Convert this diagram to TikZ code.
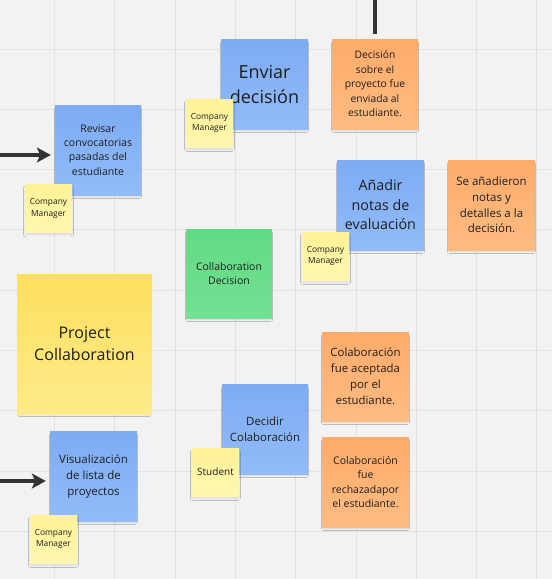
\documentclass[tikz,border=0pt]{standalone}
\usepackage{fontspec}
\setmainfont{Open Sans}
\usepackage{xcolor}
\usepackage{tikz}
\usetikzlibrary{arrows.meta,shadows.blur}
\definecolor{bgcol}{HTML}{F2F2F2}
\definecolor{gridcol}{HTML}{E3E3E3}
\definecolor{inkcol}{HTML}{1E1E1E}
\definecolor{linecol}{HTML}{333333}
\definecolor{bluetop}{HTML}{7DACF4}
\definecolor{bluebot}{HTML}{92BBF8}
\definecolor{orangetop}{HTML}{FFAB6A}
\definecolor{orangebot}{HTML}{FFBC82}
\definecolor{greentop}{HTML}{62DA84}
\definecolor{greenbot}{HTML}{72E193}
\definecolor{yellowtop}{HTML}{FDE05E}
\definecolor{yellowbot}{HTML}{FEEA8A}
\definecolor{tagtop}{HTML}{FFF296}
\definecolor{tagbot}{HTML}{FFF7B0}
\tikzset{
  sticky/.style={minimum width=87pt,minimum height=90pt,inner sep=0pt,align=center,text=inkcol,
    blur shadow={shadow xshift=0pt,shadow yshift=-3pt,shadow scale=0.96,shadow blur radius=2.5pt,shadow opacity=12}},
  bluenote/.style={sticky,top color=bluetop,bottom color=bluebot},
  orangenote/.style={sticky,top color=orangetop,bottom color=orangebot},
  greennote/.style={sticky,top color=greentop,bottom color=greenbot},
  bignote/.style={sticky,minimum width=135pt,minimum height=140pt,top color=yellowtop,bottom color=yellowbot},
  roletag/.style={sticky,minimum width=47pt,minimum height=48pt,top color=tagtop,bottom color=tagbot,
    font=\fontsize{8.4}{11.3}\selectfont},
  flow/.style={line width=3.6pt,draw=linecol,-{Stealth[length=14pt,width=15pt,inset=3.5pt]}}
}
\begin{document}
\begin{tikzpicture}[x=1pt,y=-1pt]
        %画背景和网格
        \fill[bgcol] (0,0) rectangle (552,579);
        \useasboundingbox (0,0) rectangle (552,579);
        \foreach \k in {1,...,9}
        {
                \draw[gridcol,line width=1pt] ({-5.8+60.3*\k},0) -- ++(0,579);
                \draw[gridcol,line width=1pt] (0,{-11.3+60.3*\k}) -- ++(552,0);
        };
        %画便签
        \node[bluenote,minimum width=86pt,font=\fontsize{10.5}{14.3}\selectfont] (revisar) at (98,150) {Revisar\\convocatorias\\pasadas del\\estudiante};
        \node[bluenote,font=\fontsize{18}{25}\selectfont] (enviar) at (264.5,84) {Enviar\\decisión};
        \node[orangenote,minimum width=86pt,font=\fontsize{10.3}{14.5}\selectfont] (sobre) at (375,84) {Decisión\\sobre el\\proyecto fue\\enviada al\\estudiante.};
        \node[bluenote,font=\fontsize{14.3}{19.5}\selectfont] (anadir) at (380.5,205) {Añadir\\notas de\\evaluación};
        \node[orangenote,font=\fontsize{11.5}{15.8}\selectfont] (notas) at (491.5,205) {Se añadieron\\notas y\\detalles a la\\decisión.};
        \node[greennote,minimum width=86pt,minimum height=89pt,font=\fontsize{10.5}{14}\selectfont] (coldec) at (229,273.5) {Collaboration\\Decision};
        \node[bignote,font=\fontsize{16}{22.3}\selectfont] (project) at (84.5,344) {Project\\Collaboration};
        \node[orangenote,minimum height=89pt,font=\fontsize{11.4}{16}\selectfont] (aceptada) at (365.5,376.5) {Colaboración\\fue aceptada\\por el\\estudiante.};
        \node[orangenote,font=\fontsize{10.5}{14.3}\selectfont] (rechazada) at (365.5,482) {Colaboración\\fue\\rechazadapor\\el estudiante.};
        \node[bluenote,minimum width=86pt,font=\fontsize{11.4}{16}\selectfont] (decidir) at (265,429) {Decidir\\Colaboración};
        \node[bluenote,font=\fontsize{11.5}{16}\selectfont] (visual) at (93.5,476) {Visualización\\de lista de\\proyectos};
        %画角色标签
        \node[roletag] (tagenviar) at (209.5,123) {Company\\Manager};
        \node[roletag] (tagrevisar) at (48.5,208.5) {Company\\Manager};
        \node[roletag] (taganadir) at (325.5,256) {Company\\Manager};
        \node[roletag,font=\fontsize{10}{12}\selectfont] (student) at (215.5,472) {Student};
        \node[roletag] (tagvisual) at (53.5,539) {Company\\Manager};
        %画连线
        \coordinate (inrevisar) at (0,155);
        \coordinate (invisual) at (0,481);
        \coordinate (topin) at (375,0);
        \draw[flow,shorten >=4pt] (inrevisar) -- (inrevisar -| revisar.west);
        \draw[flow,shorten >=4pt] (invisual) -- (invisual -| visual.west);
        \draw[line width=4.5pt,draw=linecol,shorten >=5pt] (topin) -- (sobre.north);
\end{tikzpicture}
\end{document}
